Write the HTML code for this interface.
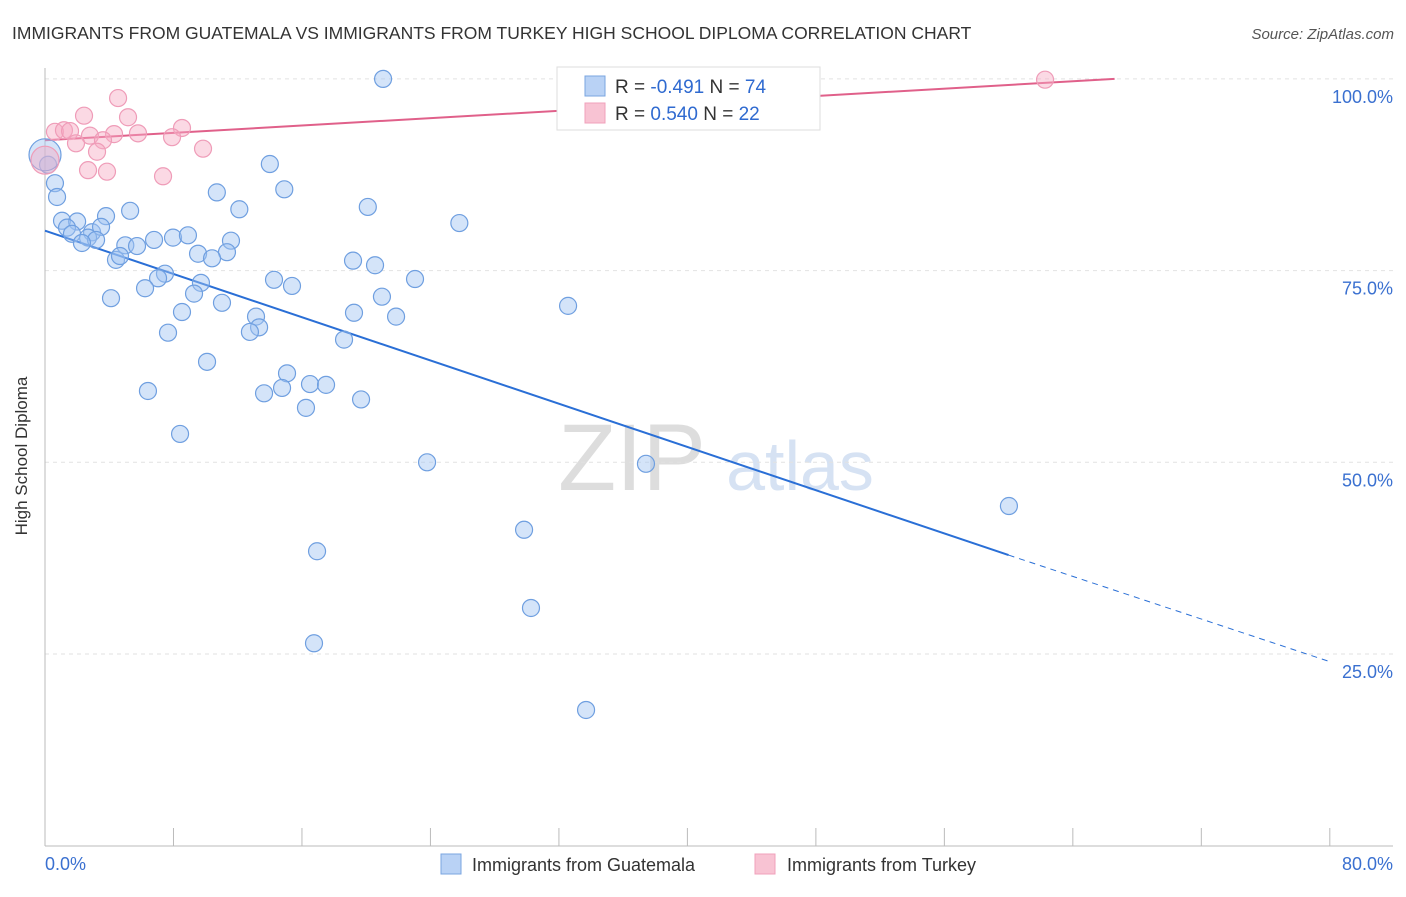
<!DOCTYPE html>
<html><head><meta charset="utf-8">
<style>
body{margin:0;background:#fff;font-family:"Liberation Sans",sans-serif;}
svg text{font-family:"Liberation Sans",sans-serif;}
</style></head>
<body>
<svg id="chart" width="1406" height="892" viewBox="0 0 1406 892" xmlns="http://www.w3.org/2000/svg">
<text x="12" y="39" font-size="17.5" fill="#333">IMMIGRANTS FROM GUATEMALA VS IMMIGRANTS FROM TURKEY HIGH SCHOOL DIPLOMA CORRELATION CHART</text>
<text x="1394" y="39" font-size="15" fill="#555" font-style="italic" text-anchor="end">Source: ZipAtlas.com</text>
<text x="27" y="456" font-size="17" fill="#333" text-anchor="middle" transform="rotate(-90 27 456)">High School Diploma</text>
<g>
<text x="632" y="490" font-size="95" fill="#ddd" font-family="Liberation Serif" text-anchor="middle">ZIP</text>
<text x="800" y="490" font-size="70" fill="#d6e2f3" text-anchor="middle">atlas</text>
</g>
<g id="grid"></g>
<g id="axes"></g>
<g id="lines"></g>
<g id="points"></g>
<g>
<rect x="557" y="67" width="263" height="63" fill="#fff" stroke="#ddd"/>
<rect x="585" y="76" width="20" height="20" fill="#b9d2f5" stroke="#7aa5e0"/>
<rect x="585" y="103" width="20" height="20" fill="#f8c3d3" stroke="#f0a0bb"/>
<text x="615" y="93" font-size="19" fill="#333">R = <tspan fill="#2f6ad0">-0.491</tspan>   N = <tspan fill="#2f6ad0">74</tspan></text>
<text x="615" y="120" font-size="19" fill="#333">R =  <tspan fill="#2f6ad0">0.540</tspan>   N = <tspan fill="#2f6ad0">22</tspan></text>
</g>
<g>
<rect x="441" y="854" width="20" height="20" fill="#b9d2f5" stroke="#7aa5e0"/>
<text x="472" y="871" font-size="18" fill="#333">Immigrants from Guatemala</text>
<rect x="755" y="854" width="20" height="20" fill="#f8c3d3" stroke="#f0a0bb"/>
<text x="787" y="871" font-size="18" fill="#333">Immigrants from Turkey</text>
</g>
</svg>
<script>
const yTicks=[100,75,50,25];
const yTickLabels=["100.0%","75.0%","50.0%","25.0%"];
const xTicks=[0,8,16,24,32,40,48,56,64,72,80];
const xEndLabels=["0.0%","80.0%"];
const blueX=[21.05,14.0,14.9,10.7,12.1,20.1,25.8,5.3,3.8,1.06,2.0,1.37,1.68,2.93,3.49,2.68,3.18,2.3,5.0,5.73,6.79,7.97,8.9,11.58,9.53,11.33,10.4,4.42,4.67,19.18,20.55,14.26,15.38,23.04,7.47,7.04,6.23,9.71,9.28,4.11,11.02,20.98,32.57,8.53,19.24,21.86,13.14,13.33,12.76,7.66,18.62,10.09,15.07,16.5,17.5,14.76,13.64,6.41,19.68,16.25,8.41,23.79,37.42,60.02,29.83,16.94,30.26,16.75,33.69,0.62,0.75,0.19,0.0];
const blueY=[100.0,88.9,85.6,85.2,83.0,83.3,81.2,82.8,82.1,81.5,81.4,80.6,79.8,80.0,80.7,79.3,79.0,78.6,78.3,78.2,79.0,79.3,79.6,78.9,77.2,77.4,76.6,76.4,76.9,76.3,75.7,73.8,73.0,73.9,74.6,74.0,72.7,73.4,72.0,71.4,70.8,71.6,70.4,69.6,69.5,69.0,69.0,67.6,67.0,66.9,66.0,63.1,61.6,60.2,60.1,59.7,59.0,59.3,58.2,57.1,53.7,50.0,49.8,44.3,41.2,38.4,31.0,26.4,17.7,86.4,84.6,88.8,90.1];
const pinkX=[62.27,4.55,2.43,5.17,0.62,1.18,1.56,2.8,5.79,8.53,4.3,3.61,1.93,7.91,3.24,9.84,2.68,3.86,7.35,0.0];
const pinkY=[99.9,97.5,95.2,95.0,93.1,93.3,93.2,92.6,92.9,93.6,92.8,92.0,91.6,92.4,90.5,90.9,88.1,87.9,87.3,89.4];
const blueTrend=[[0,80.2],[60,37.9],[80,24.0]];
const pinkTrend=[[0,92.0],[66.6,100.0]];
const NS="http://www.w3.org/2000/svg";
const xs=v=>45+v*16.06;
const ys=v=>845.7-v*7.668;
function mk(tag,attrs,parent){const e=document.createElementNS(NS,tag);for(const k in attrs)e.setAttribute(k,attrs[k]);document.getElementById(parent).appendChild(e);return e;}
yTicks.forEach((t,i)=>{
 const g=mk('line',{x1:45,x2:1393,y1:ys(t),y2:ys(t),stroke:'#e2e2e2','stroke-dasharray':'4,4'},'grid');
 
 
 const l=mk('text',{x:1393,y:ys(t)+24,'font-size':18,fill:'#3a70d0','text-anchor':'end'},'grid');
 l.textContent=yTickLabels[i];
 
 
});
const ya=mk('line',{x1:45,x2:45,y1:68,y2:846,stroke:'#bbb'},'axes');


const xa=mk('line',{x1:45,x2:1393,y1:846,y2:846,stroke:'#bbb'},'axes');


xTicks.forEach(t=>{
 const k=mk('line',{x1:xs(t),x2:xs(t),y1:828,y2:846,stroke:'#bbb'},'axes');
 
 
});
const xl0=mk('text',{x:45,y:870,'font-size':18,fill:'#3a70d0'},'axes');xl0.textContent=xEndLabels[0];


const xl1=mk('text',{x:1393,y:870,'font-size':18,fill:'#3a70d0','text-anchor':'end'},'axes');xl1.textContent=xEndLabels[1];


// trend lines
const b1=mk('line',{x1:xs(blueTrend[0][0]),y1:ys(blueTrend[0][1]),x2:xs(blueTrend[1][0]),y2:ys(blueTrend[1][1]),stroke:'#2a6fd6','stroke-width':2},'lines');


const b2=mk('line',{x1:xs(blueTrend[1][0]),y1:ys(blueTrend[1][1]),x2:xs(blueTrend[2][0]),y2:ys(blueTrend[2][1]),stroke:'#2a6fd6','stroke-width':1,'stroke-dasharray':'6,5'},'lines');


const p1=mk('line',{x1:xs(pinkTrend[0][0]),y1:ys(pinkTrend[0][1]),x2:xs(pinkTrend[1][0]),y2:ys(pinkTrend[1][1]),stroke:'#e0608a','stroke-width':2},'lines');


blueX.forEach((x,i)=>{
 const big=(x===0);
 const c=mk('circle',{cx:xs(x),cy:ys(blueY[i]),r:big?16:8.5,fill:'rgba(160,195,242,0.45)',stroke:'#6f9fe0','stroke-width':1.2},'points');
 
 
});
pinkX.forEach((x,i)=>{
 const big=(x===0);
 const c=mk('circle',{cx:xs(x),cy:ys(pinkY[i]),r:big?14:8.5,fill:'rgba(246,170,196,0.45)',stroke:'#ef9cb8','stroke-width':1.2},'points');
 
 
});
</script>
</body></html>
